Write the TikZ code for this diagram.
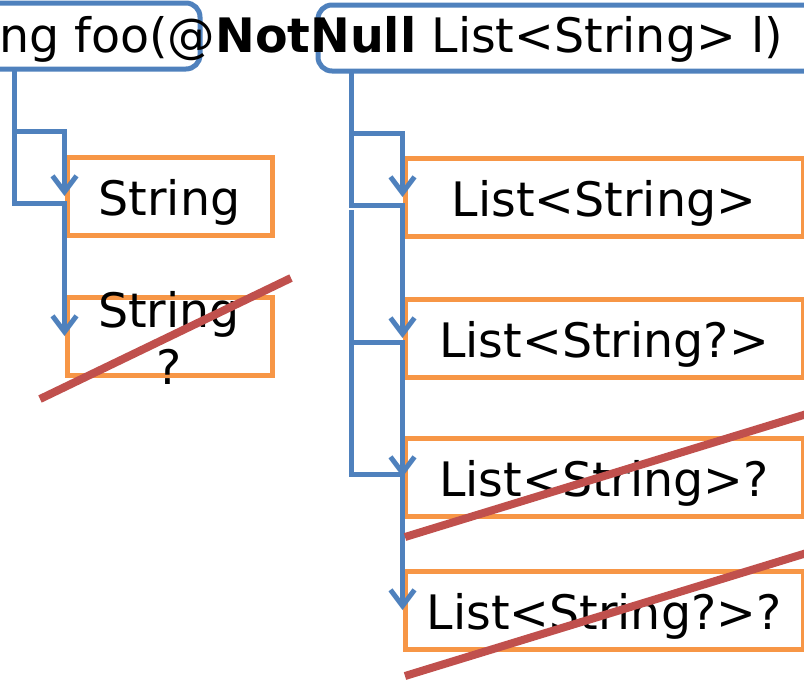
\documentclass[tikz,border=0pt]{standalone}
\usepackage{fontspec}
\setmainfont{DejaVu Sans}
\usetikzlibrary{arrows.meta}
\definecolor{lineblue}{HTML}{4F81BD}
\definecolor{boxorange}{HTML}{F79646}
\definecolor{crossred}{HTML}{C0504D}
\begin{document}
\begin{tikzpicture}[x=1pt,y=-1pt,>={Straight Barb[length=16pt,width=24pt]},
  every node/.style={font=\fontsize{47.5}{57}\selectfont},
  tbox/.style={draw=boxorange,line width=5pt,minimum height=78pt,inner sep=0pt,text height=38pt,text depth=0pt},
  pbox/.style={draw=lineblue,line width=5pt,rounded corners=14pt,minimum height=66pt,inner sep=0pt},
  conn/.style={->,draw=lineblue,line width=5pt},
  strike/.style={draw=crossred,line width=8pt}]
\useasboundingbox (0,0) rectangle (804,681);
\clip (0,0) rectangle (804,681);
% signature
\node[pbox,minimum width=240pt] (pl) at (80,36) {};
\node[pbox,minimum width=512pt] (pr) at (574,38) {};
\node[anchor=base east,inner sep=0pt] (sig) at (783,52) {String foo(@\textbf{NotNull} List<String> l)};
\coordinate (la) at (14,69);
\coordinate (ra) at (351,71);
\coordinate (rb) at (351,210);
% return types
\node[tbox,minimum width=205pt] (s1) at (169.5,196) {String};
\node[tbox,minimum width=205pt] (s2) at (169.5,336) {};
\node[align=center,inner sep=0pt] (s2t) at (169,338) {String\\?};
% parameter types
\node[tbox,minimum width=398pt] (r1) at (604,197) {List<String>};
\node[tbox,minimum width=398pt] (r2) at (604,338) {List<String?>};
\node[tbox,minimum width=398pt] (r3) at (604,477) {List<String>?};
\node[tbox,minimum width=398pt] (r4) at (604,610) {List<String?>?};
% connectors
\draw[conn] (la) -- ++(0,62) -| (s1.west);
\draw[conn] (la) -- ++(0,134) -| (s2.west);
\draw[conn] (ra) -- ++(0,62) -| (r1.west);
\draw[conn] (ra) -- ++(0,134) -| (r2.west);
\draw[conn] (rb) -- ++(0,132) -| (r3.west);
\draw[conn] (rb) -- ++(0,264) -| (r4.west);
% crossed out
\draw[strike] (40,399) -- (291,278);
\draw[strike] (405,537) -- (810,413);
\draw[strike] (405,676) -- (810,552);
\end{tikzpicture}
\end{document}
